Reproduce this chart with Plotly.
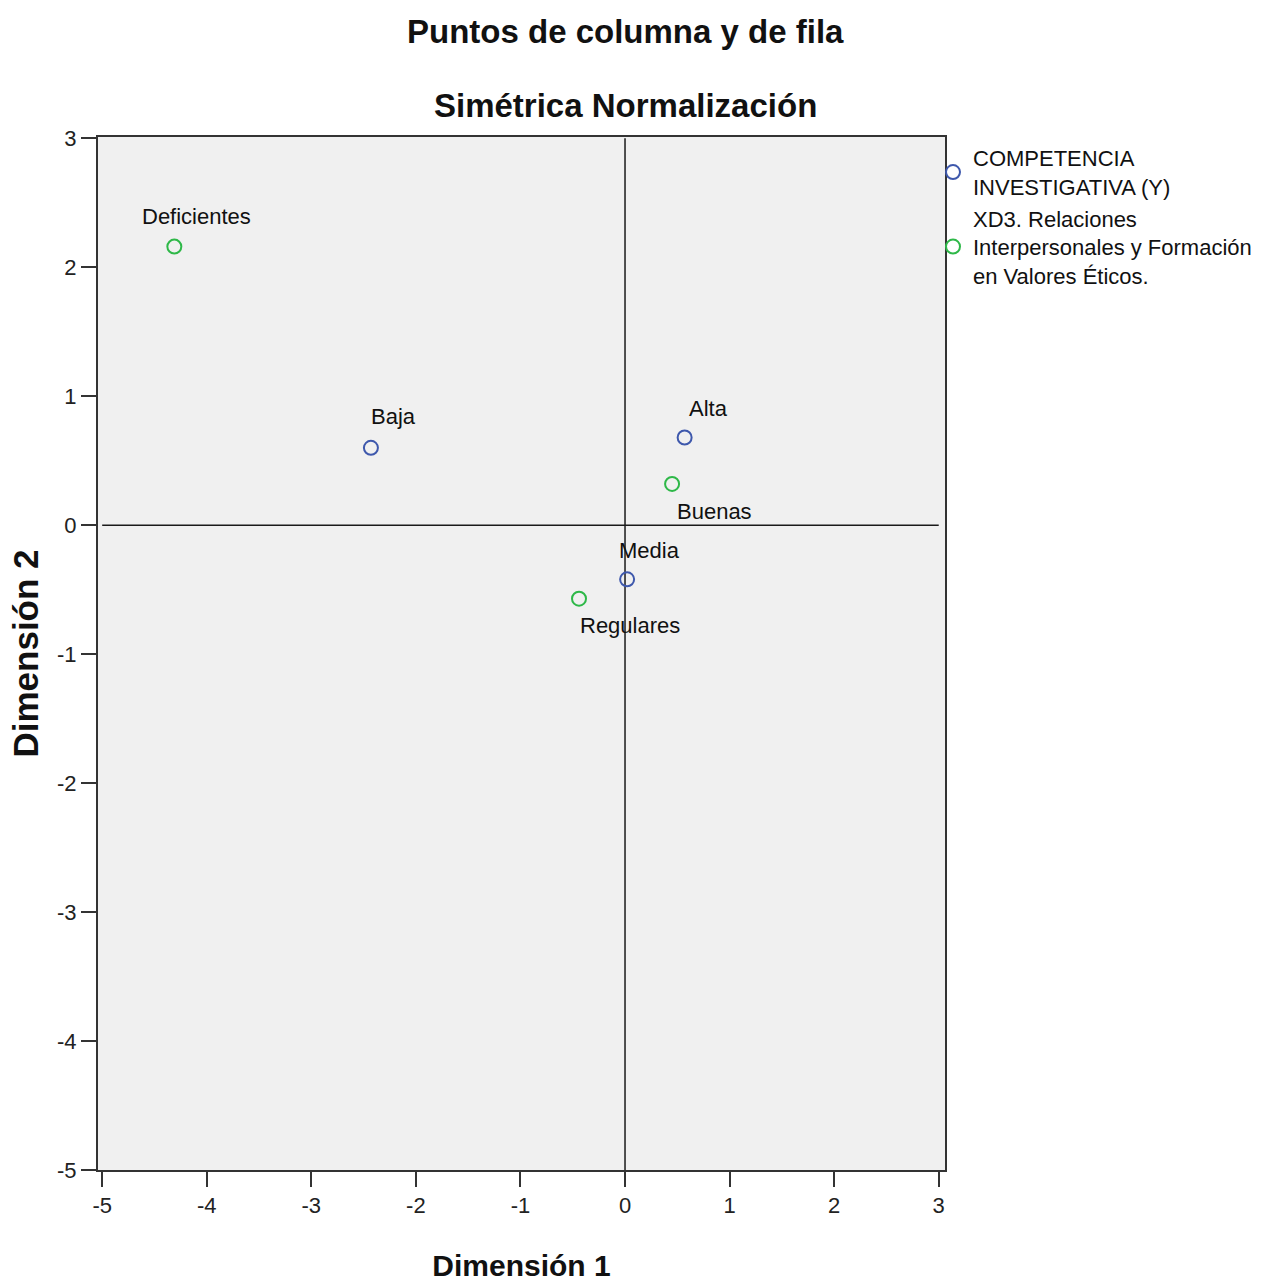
import plotly.graph_objects as go

# Correspondence-analysis coordinates (symmetric normalisation)
# Column points: COMPETENCIA INVESTIGATIVA (Y)
col_labels = ["Baja", "Media", "Alta"]
col_dim1 = [-2.43, 0.02, 0.57]
col_dim2 = [0.60, -0.42, 0.68]

# Row points: XD3. Relaciones Interpersonales y Formación en Valores Éticos
row_labels = ["Deficientes", "Regulares", "Buenas"]
row_dim1 = [-4.31, -0.44, 0.45]
row_dim2 = [2.16, -0.57, 0.32]

col_name = "COMPETENCIA<br>INVESTIGATIVA (Y)"
row_name = "XD3. Relaciones<br>Interpersonales y Formación<br>en Valores Éticos."

x_ticks = [-5, -4, -3, -2, -1, 0, 1, 2, 3]
y_ticks = [-5, -4, -3, -2, -1, 0, 1, 2, 3]

BLUE = "#3E58AC"
GREEN = "#2EB848"
FONT = "Liberation Sans, Arial, sans-serif"

# pixel offsets of each point label from its marker (x right, y up)
label_shift = {
    "Deficientes": (22, 30),
    "Baja": (23, 31),
    "Alta": (24, 29),
    "Media": (22, 29),
    "Buenas": (42, -28),
    "Regulares": (51, -27),
}

# plot-area geometry in pixels
W, H = 1270, 1283
L, R, T, B = 98, 325, 137, 113
plot_w = W - L - R
plot_h = H - T - B

fig = go.Figure()

fig.add_trace(go.Scatter(
    x=col_dim1, y=col_dim2, mode="markers", name=col_name,
    marker=dict(symbol="circle-open", size=14, color=BLUE, line=dict(width=2, color=BLUE)),
    cliponaxis=False,
))
fig.add_trace(go.Scatter(
    x=row_dim1, y=row_dim2, mode="markers", name=row_name,
    marker=dict(symbol="circle-open", size=14, color=GREEN, line=dict(width=2, color=GREEN)),
    cliponaxis=False,
))

annotations = []
for labels, xs, ys in ((col_labels, col_dim1, col_dim2), (row_labels, row_dim1, row_dim2)):
    for lab, xv, yv in zip(labels, xs, ys):
        dx, dy = label_shift[lab]
        annotations.append(dict(
            x=xv, y=yv, xref="x", yref="y", text=lab, showarrow=False,
            xanchor="center", yanchor="middle", xshift=dx, yshift=dy,
            font=dict(family=FONT, size=22, color="#111111"),
        ))

# two-line chart title
title_x = (625 - L) / plot_w
annotations.append(dict(
    x=title_x, y=1 + (T - 32) / plot_h, xref="paper", yref="paper",
    xanchor="center", yanchor="middle",
    text="<b>Puntos de columna y de fila</b>", showarrow=False,
    font=dict(family=FONT, size=33, color="#111111"),
))
annotations.append(dict(
    x=title_x, y=1 + (T - 106) / plot_h, xref="paper", yref="paper",
    xanchor="center", yanchor="middle",
    text="<b>Simétrica Normalización</b>", showarrow=False,
    font=dict(family=FONT, size=33, color="#111111"),
))

# reference lines through the origin
shapes = [
    dict(type="line", xref="x", yref="y", x0=x_ticks[0], x1=x_ticks[-1], y0=0, y1=0,
         line=dict(color="#1a1a1a", width=1.5), layer="below"),
    dict(type="line", xref="x", yref="y", x0=0, x1=0, y0=y_ticks[0], y1=y_ticks[-1],
         line=dict(color="#1a1a1a", width=1.5), layer="below"),
]

axis_common = dict(
    showgrid=False, zeroline=False, showline=True, linecolor="#333333", linewidth=2,
    mirror=True, ticks="outside", ticklen=15, tickwidth=2, tickcolor="#333333",
    tickfont=dict(family=FONT, size=22, color="#222222"),
)

fig.update_layout(
    width=W, height=H,
    margin=dict(l=L, r=R, t=T, b=B, autoexpand=False),
    paper_bgcolor="white", plot_bgcolor="#f0f0f0",
    xaxis=dict(range=[-5.04, 3.06], tickvals=x_ticks, ticktext=[str(v) for v in x_ticks],
               title=dict(text="<b>Dimensión 1</b>", standoff=38,
                          font=dict(family=FONT, size=30, color="#111111")),
               **axis_common),
    yaxis=dict(range=[-5.0, 3.01], tickvals=y_ticks, ticktext=[str(v) for v in y_ticks],
               title=dict(text="<b>Dimensión 2</b>", standoff=8,
                          font=dict(family=FONT, size=35, color="#111111")),
               **axis_common),
    legend=dict(x=1.0 - 12 / plot_w, xanchor="left", y=1.0, yanchor="top",
                font=dict(family=FONT, size=22, color="#111111"),
                bgcolor="rgba(0,0,0,0)", itemwidth=30, tracegroupgap=0),
    annotations=annotations,
    shapes=shapes,
    showlegend=True,
)

fig.write_html("out.html")
